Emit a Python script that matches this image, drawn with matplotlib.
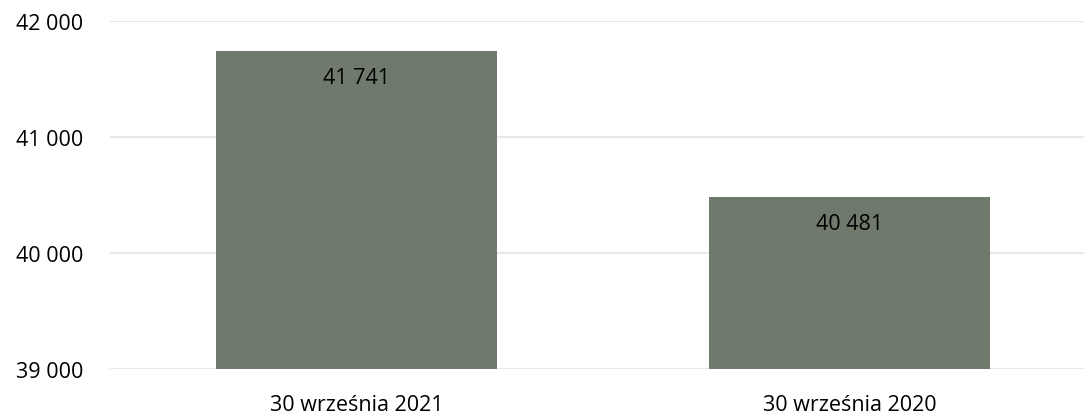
import matplotlib
matplotlib.use("Agg")
from matplotlib import pyplot as plt
from matplotlib.ticker import FuncFormatter

# data
categories = ["30 września 2021", "30 września 2020"]
values = [41741, 40481]
yticks = [39000, 40000, 41000, 42000]

bar_color = "#6f7a6c"
grid_color = "#e8e8e8"

plt.rcParams['font.family'] = ['Open Sans', 'DejaVu Sans']

def fmt(v, pos=None):
    return f"{int(v):,}".replace(",", " ")

fig = plt.figure(figsize=(10.84, 4.14), dpi=100)
W, H = 1084, 414
ax = fig.add_axes([110 / W, (H - 370) / H, (W - 110) / W, (370 - 22) / H])

x = list(range(len(categories)))
bars = ax.bar(x, values, width=0.57, color=bar_color, zorder=2)

ax.set_ylim(39000, 42000)
ax.set_xlim(-0.5, 1.5 - 12 / 493)
ax.set_yticks(yticks)
ax.yaxis.set_major_formatter(FuncFormatter(fmt))
ax.set_xticks(x)
ax.set_xticklabels(categories)

ax.grid(axis='y', color=grid_color, linewidth=1.6, zorder=0)
for s in ax.spines.values():
    s.set_visible(False)
ax.tick_params(axis='both', length=0, labelsize=15.5, colors='black')
ax.tick_params(axis='y', pad=19.5)
ax.tick_params(axis='x', pad=18)

for b, v in zip(bars, values):
    ax.annotate(fmt(v), (b.get_x() + b.get_width() / 2, v),
                xytext=(0, -26), textcoords='offset pixels',
                ha='center', va='center', fontsize=15.5, color='black')

fig.savefig("out.png", dpi=100)
